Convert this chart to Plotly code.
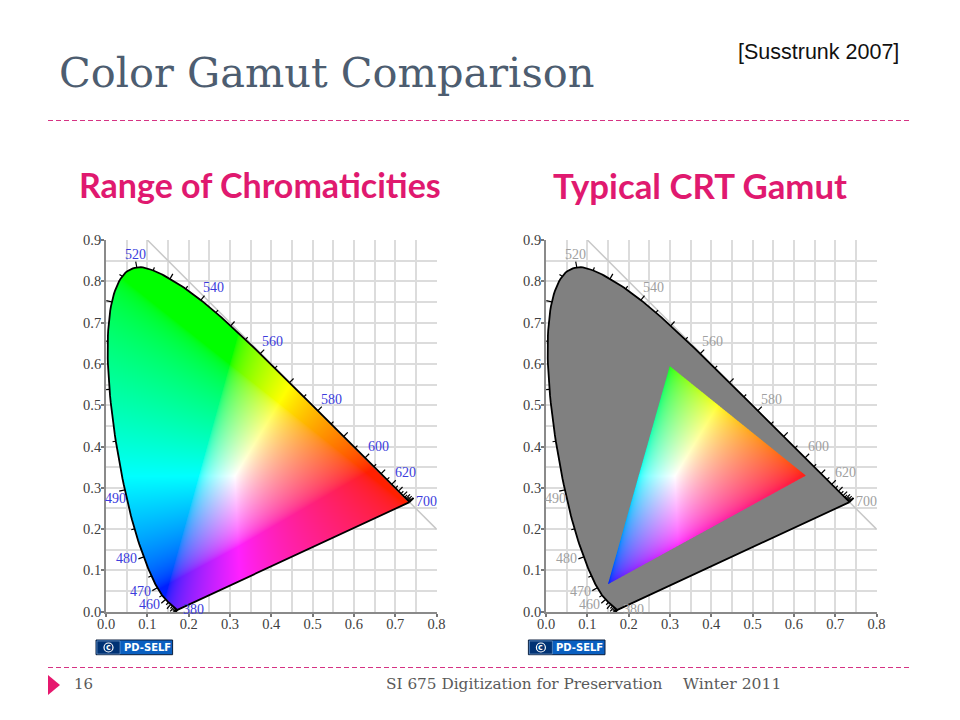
import numpy as np
import plotly.graph_objects as go

# CIE 1931 spectral locus, read as wavelength / x / y
wavelengths = [380,385,390,395,400,405,410,415,420,425,430,435,440,445,450,455,460,465,470,475,480,485,490,495,
               500,505,510,515,520,525,530,535,540,545,550,555,560,565,570,575,580,585,590,595,600,605,610,615,
               620,625,630,635,640,645,650,655,660,665,670,675,680,690,700]
locus_x = [.1741,.1740,.1738,.1736,.1733,.1730,.1726,.1721,.1714,.1703,.1689,.1669,.1644,.1611,.1566,.1510,.1440,.1355,.1241,.1096,.0913,.0687,.0454,.0235,
           .0082,.0039,.0139,.0389,.0743,.1142,.1547,.1929,.2296,.2658,.3016,.3373,.3731,.4087,.4441,.4788,.5125,.5448,.5752,.6029,.6270,.6482,.6658,.6801,
           .6915,.7006,.7079,.7140,.7190,.7230,.7260,.7283,.7300,.7320,.7334,.7344,.7347,.7347,.7347]
locus_y = [.0050,.0050,.0049,.0049,.0048,.0048,.0048,.0048,.0051,.0058,.0069,.0086,.0109,.0138,.0177,.0227,.0297,.0399,.0578,.0868,.1327,.2007,.2950,.4127,
           .5384,.6548,.7502,.8120,.8338,.8262,.8059,.7816,.7543,.7243,.6923,.6589,.6245,.5896,.5547,.5202,.4866,.4544,.4242,.3965,.3725,.3514,.3340,.3197,
           .3083,.2993,.2920,.2859,.2809,.2770,.2740,.2717,.2700,.2680,.2666,.2656,.2653,.2653,.2653]

label_text = ["380","460","470","480","490","500","520","540","560","580","600","620","700"]
label_x = [.211,.104,.084,.050,.023,-.035,.072,.259,.404,.545,.660,.724,.775]
label_y = [.006,.017,.050,.128,.275,.537,.865,.784,.655,.513,.399,.336,.266]

crt_x = [.30,.63,.15]
crt_y = [.595,.33,.067]

line_x = [.1,.8]
line_y = [.9,.2]

axis_x_ticks = [0,.1,.2,.3,.4,.5,.6,.7,.8]
axis_y_ticks = [0,.1,.2,.3,.4,.5,.6,.7,.8,.9]

W, H = 960, 720
PLOT_L = 106; PLOT_R = 546; PLOT_W = 330.6
PLOT_T = 240; PLOT_B = 611.7
GRAY_LABEL = "#a0a0a0"; BLUE_LABEL = "#3c3cdc"
SERIF = "Liberation Serif"; SLIDE = "DejaVu Serif"; HEAD = "Lato"

def px(v): return v / W
def py(v): return 1 - v / H

lx = np.array(locus_x); ly = np.array(locus_y)

def smooth(xs, ys, n=8):
    """Catmull-Rom outline through the read points, used only for the curve's edge."""
    p = np.column_stack([xs, ys])
    out = []
    for i in range(len(p) - 1):
        p0, p1, p2, p3 = p[max(i-1, 0)], p[i], p[i+1], p[min(i+2, len(p)-1)]
        for t in np.arange(n) / n:
            out.append(.5*((2*p1) + (p2-p0)*t + (2*p0-5*p1+4*p2-p3)*t*t + (3*p1-p0-3*p2+p3)*t**3))
    out.append(p[-1])
    out = np.array(out)
    return out[:, 0], out[:, 1]

outline_x, outline_y = smooth(lx, ly)

def inside(gx, gy, vx, vy):
    vx = np.asarray(vx); vy = np.asarray(vy)
    res = np.zeros(gx.shape, bool)
    j = len(vx) - 1
    for i in range(len(vx)):
        if vy[i] != vy[j]:
            cond = (vy[i] > gy) != (vy[j] > gy)
            xint = (vx[j] - vx[i]) * (gy - vy[i]) / (vy[j] - vy[i]) + vx[i]
            res ^= cond & (gx < xint)
        j = i
    return res

def chroma_rgb(x, y):
    y = np.maximum(y, 1e-4)
    X = x / y; Y = np.ones_like(x); Z = (1 - x - y) / y
    r = 3.2406*X - 1.5372*Y - 0.4986*Z
    g = -0.9689*X + 1.8758*Y + 0.0415*Z
    b = 0.0557*X - 0.2040*Y + 1.0570*Z
    rgb = np.clip(np.stack([r, g, b], -1), 0, None)
    rgb = rgb / np.maximum(rgb.max(-1, keepdims=True), 1e-6)
    out = 255 * np.where(rgb <= .0031308, 12.92*rgb, 1.055*np.power(rgb, 1/2.4) - .055)
    out[..., 1] = np.maximum(out[..., 1], 32)
    return out

dx = 0.8 / 330; dy = 0.9 / 372
NX, NY = 330, 372
SS = 3
def mask(vx, vy):
    fx = (np.arange(NX*SS) + .5) * dx / SS
    fy = (np.arange(NY*SS) + .5) * dy / SS
    gx, gy = np.meshgrid(fx, fy)
    return inside(gx, gy, vx, vy).astype(float).reshape(NY, SS, NX, SS).mean((1, 3))

cx, cy = np.meshgrid((np.arange(NX)+.5)*dx, (np.arange(NY)+.5)*dy)
full_rgb = chroma_rgb(cx, cy)
locus_mask = mask(outline_x, outline_y)
tri_mask = mask(crt_x, crt_y)[..., None]
z_full = np.round(np.dstack([full_rgb, locus_mask]), 3).tolist()
z_crt = np.round(np.dstack([full_rgb*tri_mask + 128*(1-tri_mask), locus_mask]), 3).tolist()

# tick marks on the locus, normal to the curve: longer every 10 nm
tx, ty = [], []
last = (-.7, -.7)
for i in range(len(lx)):
    a = max(i-1, 0); b = min(i+1, len(lx)-1)
    ddx, ddy = lx[b]-lx[a], ly[b]-ly[a]
    n = np.hypot(ddx, ddy)
    if n > .004:
        last = (-ddy/n, ddx/n)
    elif lx[i] > .5:
        last = (.7, .7)
    tl = .014 if wavelengths[i] % 10 == 0 else .008
    tx += [lx[i], lx[i] + last[0]*tl, None]
    ty += [ly[i], ly[i] + last[1]*tl, None]

AXIS_TEXT = "#404040"
fig = go.Figure()
for k, (xa, ya, lab_col, zz) in enumerate([("x", "y", BLUE_LABEL, z_full), ("x2", "y2", GRAY_LABEL, z_crt)]):
    fig.add_trace(go.Image(z=zz, colormodel="rgba", x0=dx/2, y0=dy/2, dx=dx, dy=dy,
                           xaxis=xa, yaxis=ya, hoverinfo="skip"))
    fig.add_trace(go.Scatter(x=line_x, y=line_y, mode="lines", line=dict(color="#c8c8c8", width=1.5),
                             xaxis=xa, yaxis=ya, hoverinfo="skip", cliponaxis=False))
    fig.add_trace(go.Scatter(x=np.r_[outline_x, outline_x[0]], y=np.r_[outline_y, outline_y[0]], mode="lines",
                             line=dict(color="black", width=1.8),
                             xaxis=xa, yaxis=ya, hoverinfo="skip"))
    fig.add_trace(go.Scatter(x=tx, y=ty, mode="lines", line=dict(color="black", width=1.2),
                             xaxis=xa, yaxis=ya, hoverinfo="skip", cliponaxis=False))
    for t, a, b in zip(label_text, label_x, label_y):
        fig.add_annotation(text=t, x=a, y=b, xref=xa, yref=ya, showarrow=False,
                           font=dict(family=SERIF, size=14, color=lab_col))
    fig.add_annotation(text="x", x=.4, y=-.059, xref=xa, yref=ya, showarrow=False,
                       font=dict(family=SERIF, size=16, color=AXIS_TEXT))
    fig.add_annotation(text="y", x=-.058, y=.454, xref=xa, yref=ya, showarrow=False,
                       font=dict(family=SERIF, size=16, color=AXIS_TEXT))

GRID = "#dcdcdc"
def style_common():
    return dict(tickformat=".1f", ticks="outside", ticklen=3, tickwidth=1.5, tickcolor="#777",
                showline=True, linecolor="#8a8a8a", linewidth=2,
                showgrid=True, gridcolor=GRID, gridwidth=1.5, zeroline=False, automargin=False,
                minor=dict(dtick=.05, showgrid=True, gridcolor=GRID, gridwidth=1.5, ticks=""),
                tickfont=dict(family=SERIF, size=14.5, color=AXIS_TEXT))
def style_x(left):
    return dict(domain=[px(left), px(left+PLOT_W)], range=[0, .8], tickvals=axis_x_ticks, ticklabelstandoff=-5, **style_common())
def style_y(anchor):
    return dict(domain=[py(PLOT_B), py(PLOT_T)], range=[0, .9], tickvals=axis_y_ticks, anchor=anchor, ticklabelstandoff=-3, **style_common())

def text(t, x, y, size, color, family, anchor="left", bold=False):
    fig.add_annotation(text=f"<b>{t}</b>" if bold else t, x=px(x), y=py(y), xref="paper", yref="paper",
                       xanchor=anchor, yanchor="middle", showarrow=False,
                       font=dict(family=family, size=size, color=color))

text("Color Gamut Comparison", 57, 73, 41.5, "#4d5d70", SLIDE)
text("[Susstrunk 2007]", 736, 52, 21.5, "#111111", "Liberation Sans")
text("Range of Chromaticities", 77, 185, 34, "#e0196f", HEAD, bold=True)
text("Typical CRT Gamut", 551, 186, 34.8, "#e0196f", HEAD, bold=True)
text("16", 72, 684, 15, "#5a5a5a", SLIDE)
text("SI 675 Digitization for Preservation", 384, 684, 15.3, "#5a5a5a", SLIDE)
text("Winter 2011", 681, 684, 15.6, "#5a5a5a", SLIDE)

shapes = []
for yy in (120.5, 667.5):
    shapes.append(dict(type="line", xref="paper", yref="paper", x0=px(48), x1=px(912), y0=py(yy), y1=py(yy),
                       line=dict(color="#d63384", width=1, dash="5px,3px")))
shapes.append(dict(type="path", xref="paper", yref="paper", fillcolor="#e6186e", line=dict(width=0),
                   path=f"M {px(48)} {py(675)} L {px(60)} {py(685)} L {px(48)} {py(695)} Z"))
for left in (96, 528.4):
    shapes.append(dict(type="rect", xref="paper", yref="paper", x0=px(left), x1=px(left+76.6), y0=py(654.7), y1=py(640),
                       fillcolor="#0a5fc0", line=dict(color="#0d1f3c", width=1)))
    shapes.append(dict(type="rect", xref="paper", yref="paper", x0=px(left+1), x1=px(left+24), y0=py(654), y1=py(641),
                       fillcolor="#003274", line=dict(color="#9ab8dc", width=.5)))
    shapes.append(dict(type="circle", xref="paper", yref="paper", x0=px(left+8), x1=px(left+17), y0=py(652), y1=py(643),
                       line=dict(color="white", width=1.2)))
    text("PD-SELF", left+26, 647.5, 10, "white", "DejaVu Sans", bold=True)
    text("c", left+12.5, 647, 8, "white", "DejaVu Sans", anchor="center", bold=True)

fig.update_layout(width=W, height=H, margin=dict(l=0, r=0, t=0, b=0, pad=0, autoexpand=False),
                  paper_bgcolor="white", plot_bgcolor="white",
                  showlegend=False, shapes=shapes,
                  xaxis=style_x(PLOT_L), yaxis=style_y("x"),
                  xaxis2=style_x(PLOT_R), yaxis2=style_y("x2"))
fig.update_layout(xaxis2_anchor="y2")
fig.write_html("out.html", post_script="document.body.style.margin='0';", config=dict(displayModeBar=False))
